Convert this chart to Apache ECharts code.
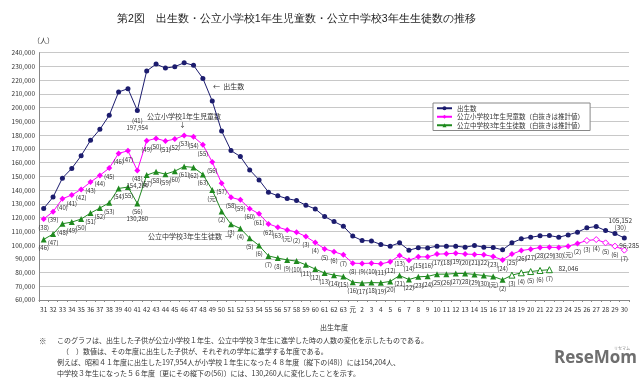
<!DOCTYPE html>
<html><head><meta charset="utf-8">
<script src="https://cdn.jsdelivr.net/npm/echarts@6/dist/echarts.min.js"></script>
<style>html,body{margin:0;padding:0;background:#fff}#c{width:640px;height:384px}</style>
</head><body><div id="c"></div>
<script>
// ---- data ----
const years = ['31','32','33','34','35','36','37','38','39','40','41','42','43','44','45','46','47','48','49','50',
  '51','52','53','54','55','56','57','58','59','60','61','62','63','元','2','3','4','5','6','7','8','9','10',
  '11','12','13','14','15','16','17','18','19','20','21','22','23','24','25','26','27','28','29','30'];
const births = [126600,134900,148700,155800,165000,176200,184200,194400,211400,213800,
  197954,226700,231700,228800,229800,232700,230800,221300,204800,183000,
  168800,164400,154700,147400,138500,135800,133800,132400,129000,126300,
  120700,117100,113700,106500,103300,103000,100400,99200,101600,96300,
  98000,97800,99200,99200,99200,98400,99700,98400,98200,96500,
  101600,104500,105700,106700,106900,105700,107400,109400,112500,113500,
  110500,108400,105152];
const elem1 = [119000,124300,133700,136400,140500,145800,150700,156000,166700,168600,
  154204,175900,177600,175700,177100,179800,178800,173000,160400,144900,
  134700,132900,126500,122700,115400,113000,111000,109400,106200,101800,
  97200,95100,92900,86800,86600,86800,86300,87800,92400,89000,
  91400,91400,93400,93600,94100,93400,93200,93000,91600,89200,
  93400,96000,97000,98200,98400,98200,99200,101100,103300,104000,
  101600,99200,96285];
const jhs3 = [104100,108000,115500,116700,118900,123300,126900,130800,141200,142200,
  130260,150900,153300,151600,153800,157200,156500,151400,140000,124500,
  115200,112000,105000,99600,92100,90500,89200,88300,85600,82500,
  79600,78100,77100,73000,72300,72700,72500,73500,77800,74900,
  76900,77200,78800,78800,79300,79300,78600,77800,77100,74700,
  78100,79800,80700,81500,82046];
const elem1Years = ['38','39','40','41','42','43','44','45','46','47','48','49','50','51','52','53','54','55','56','57',
  '58','59','60','61','62','63','元','2','3','4','5','6','7','8','9','10','11','12','13','14','15','16','17',
  '18','19','20','21','22','23','24','25','26','27','28','29','30','元','2','3','4','5','6','7'];
const jhs3Years = ['46','47','48','49','50','51','52','53','54','55','56','57','58','59','60','61','62','63','元',
  '2','3','4','5','6','7','8','9','10','11','12','13','14','15','16','17','18','19','20','21','22','23','24',
  '25','26','27','28','29','30','元','2','3','4','5','6','7'];
const elem1EstimateFrom = 58;   // open markers from this index
const jhs3EstimateFrom = 50;
const seriesNames = ['出生数','公立小学校1年生児童数（白抜きは推計値）','公立中学校3年生生徒数（白抜きは推計値）'];
const yTicks = {min:60000, max:240000, interval:10000};

// ---- chart ----
const FONT = '"Noto Sans CJK JP", "Noto Sans", sans-serif';
const C_BIRTH = '#1c1c6e', C_ELEM = '#ff00ff', C_JHS = '#1f8a1f';
const fmt = v => v.toLocaleString('en-US');

function buildData(vals, yearLbls, estFrom, color, special) {
  return vals.map((v, i) => {
    const open = estFrom != null && i >= estFrom;
    let txt = '(' + yearLbls[i] + ')';
    if (special[i]) txt = special[i];
    return {
      value: v,
      itemStyle: open ? {color:'#fff', borderColor: color, borderWidth: 1} : {color: color},
      label: {show: true, formatter: txt, position: 'bottom', distance: 2,
        fontSize: 6, lineHeight: 7, color: '#333', fontFamily: FONT}
    };
  });
}

const elemData = buildData(elem1, elem1Years, elem1EstimateFrom, C_ELEM, {10: '(48)\n' + fmt(elem1[10])});
const jhsData = buildData(jhs3, jhs3Years, jhs3EstimateFrom, C_JHS, {10: '(56)\n' + fmt(jhs3[10])});
const birthData = births.map((v, i) => {
  const d = {value: v};
  if (i === 10) d.label = {show: true, formatter: '(41)\n' + fmt(v), position: 'bottom', distance: 4,
      fontSize: 6, lineHeight: 7, color: '#333', fontFamily: FONT};
  if (i === births.length - 1) d.label = {show: true, formatter: fmt(v) + '\n(30)', position: 'top', distance: 4,
      fontSize: 6.5, lineHeight: 7, color: '#333', fontFamily: FONT, offset: [-4, 0]};
  return d;
});

const chart = echarts.init(document.getElementById('c'), null, {renderer: 'canvas'});
chart.setOption({
  animation: false,
  backgroundColor: '#fff',
  textStyle: {fontFamily: FONT},
  grid: {left: 39, right: 11, top: 52.7, bottom: 84},
  legend: {
    orient: 'vertical', left: 433, top: 103, itemWidth: 15, itemHeight: 5, itemGap: 2,
    padding: [2, 6, 2, 3], borderColor: '#888', borderWidth: 1, backgroundColor: '#fff',
    textStyle: {fontSize: 6.5, color: '#333', fontFamily: FONT},
    data: seriesNames
  },
  xAxis: {
    type: 'category', data: years, boundaryGap: true,
    axisLine: {lineStyle: {color: '#888'}},
    axisTick: {show: true, length: 2, lineStyle: {color: '#888'}},
    axisLabel: {interval: 0, fontSize: 6.5, color: '#333', margin: 6, fontFamily: FONT},
    name: '出生年度', nameLocation: 'middle', nameGap: 24,
    nameTextStyle: {fontSize: 7, color: '#333', fontFamily: FONT}
  },
  yAxis: {
    type: 'value', min: yTicks.min, max: yTicks.max, interval: yTicks.interval,
    axisLine: {show: true, lineStyle: {color: '#888'}},
    axisTick: {show: false},
    axisLabel: {fontSize: 6.5, color: '#333', margin: 4, formatter: v => fmt(v), fontFamily: FONT},
    splitLine: {lineStyle: {color: '#c8c8c8', width: 1}}
  },
  series: [
    {name: seriesNames[0], type: 'line', data: birthData, symbol: 'circle', symbolSize: 5,
     itemStyle: {color: C_BIRTH}, lineStyle: {color: C_BIRTH, width: 1}},
    {name: seriesNames[1], type: 'line', data: elemData, symbol: 'diamond', symbolSize: 6,
     itemStyle: {color: C_ELEM}, lineStyle: {color: C_ELEM, width: 1},
     markPoint: {symbol: 'circle', symbolSize: 0, data: [{coord: [elem1.length - 1, elem1[elem1.length - 1]],
       label: {show: true, formatter: fmt(elem1[elem1.length - 1]), position: 'right', offset: [-10, -5],
       fontSize: 6.5, color: '#333', fontFamily: FONT}}]}},
    {name: seriesNames[2], type: 'line', data: jhsData, symbol: 'triangle', symbolSize: 6,
     itemStyle: {color: C_JHS}, lineStyle: {color: C_JHS, width: 1},
     markPoint: {symbol: 'circle', symbolSize: 0, data: [{coord: [jhs3.length - 1, jhs3[jhs3.length - 1]],
       label: {show: true, formatter: fmt(jhs3[jhs3.length - 1]), position: 'right', offset: [4, -1],
       fontSize: 6.5, color: '#333', fontFamily: FONT}}]}}
  ],
  graphic: [
    {type: 'text', left: 117, top: 14, style: {text: '第2図　出生数・公立小学校1年生児童数・公立中学校3年生生徒数の推移',
      fontSize: 10.5, fill: '#222', font: '10.5px ' + FONT}},
    {type: 'text', left: 33, top: 37, style: {text: '（人）', fill: '#333', font: '7px ' + FONT}},
    {type: 'text', left: 213, top: 83, style: {text: '←  出生数', fill: '#333', font: '7px ' + FONT}},
    {type: 'text', left: 147, top: 113, style: {text: '公立小学校1年生児童数', fill: '#333', font: '7px ' + FONT}},
    {type: 'text', left: 179, top: 121, style: {text: '↓', fill: '#333', font: '7px ' + FONT}},
    {type: 'text', left: 148, top: 233, style: {text: '公立中学校3年生生徒数  →', fill: '#333', font: '7px ' + FONT}},
    {type: 'text', left: 39, top: 337, style: {text: '※', fill: '#333', font: '7.5px ' + FONT}},
    {type: 'text', left: 57, top: 337, style: {text: 'このグラフは、出生した子供が公立小学校１年生、公立中学校３年生に進学した時の人数の変化を示したものである。', fill: '#333', font: '7px ' + FONT}},
    {type: 'text', left: 62, top: 348, style: {text: '（　）数値は、その年度に出生した子供が、それぞれの学年に進学する年度である。', fill: '#333', font: '7px ' + FONT}},
    {type: 'text', left: 57, top: 359, style: {text: '例えば、昭和４１年度に出生した197,954人が小学校１年生になった４８年度〔縦下の(48)〕には154,204人、', fill: '#333', font: '7px ' + FONT}},
    {type: 'text', left: 57, top: 370, style: {text: '中学校３年生になった５６年度〔更にその縦下の(56)〕には、130,260人に変化したことを示す。', fill: '#333', font: '7px ' + FONT}},
    {type: 'text', left: 614, top: 346, style: {text: 'リセマム', fill: '#888', font: '4px ' + FONT}},
    {type: 'text', left: 554, top: 350, style: {text: 'ReseMom', fill: '#6e6e6e', font: 'bold 17px "Open Sans", sans-serif'}}
  ]
});
</script>
</body></html>
